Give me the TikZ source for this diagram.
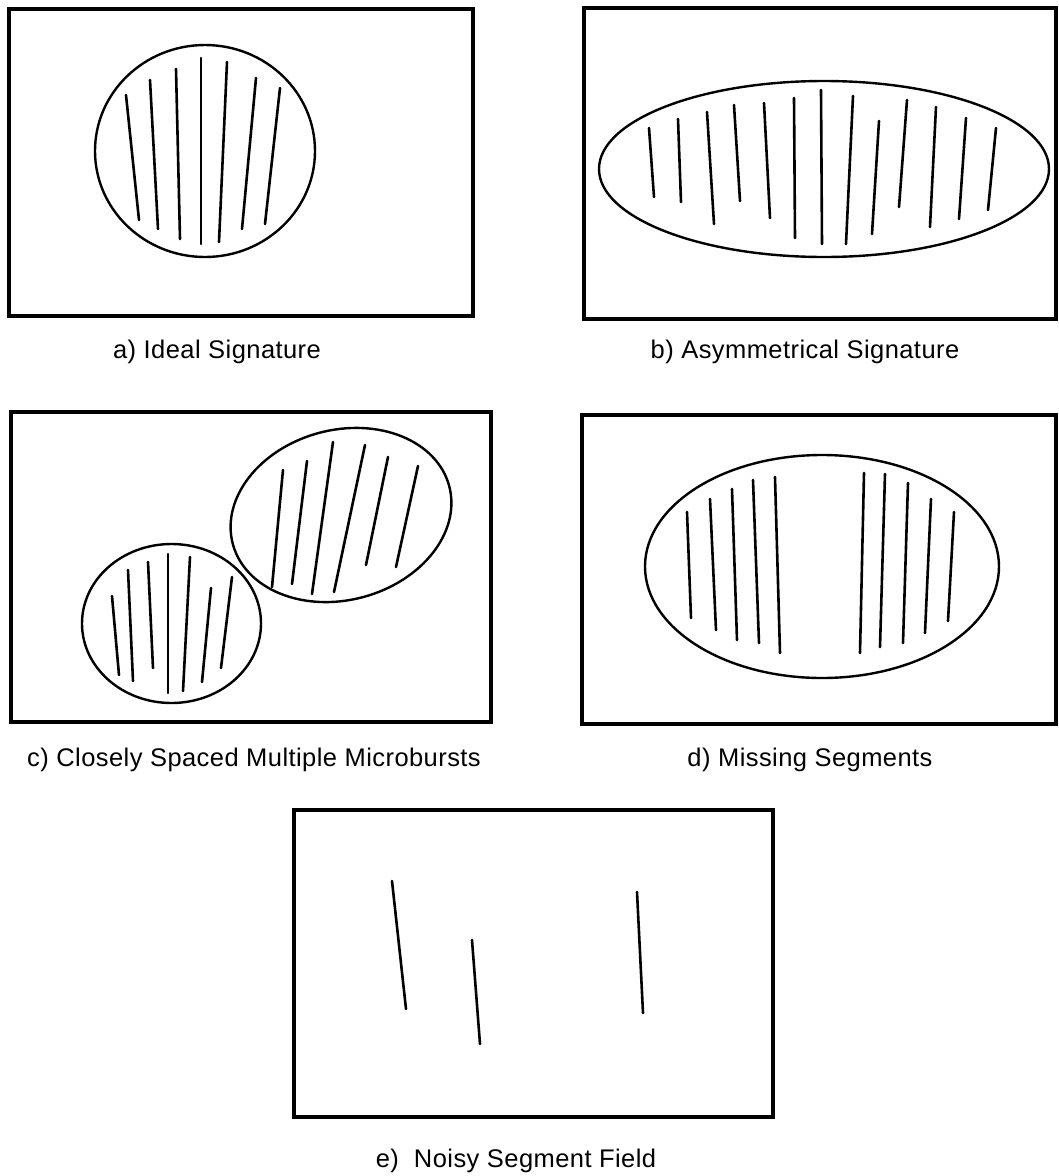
\documentclass[tikz,border=0pt]{standalone}
\usepackage{fontspec}
\setmainfont{Liberation Sans}[LetterSpace=1.7]
\begin{document}
\begin{tikzpicture}[x=1pt,y=-1pt,
  frame/.style={line width=3.2pt},
  blob/.style={line width=2.4pt},
  seg/.style={line width=2.6pt,line cap=round},
  lab/.style={anchor=base,font=\fontsize{25.5}{30}\selectfont,inner sep=0pt}]
\useasboundingbox (0,0) rectangle (1059,1176);
\fill[white] (0,0) rectangle (1059,1176);

% ---- a) Ideal Signature
\draw[frame] (9,9) rectangle (473,316);
\draw[blob] (205,151) ellipse [x radius=110, y radius=106];
\foreach \a/\b/\c/\d in {126/95/139/220, 150/80/158/229, 176/69/180/239,
  201/58/201/244, 227/62/219/242, 256/78/242/229, 280/88/265/224}
  \draw[seg] (\a,\b) -- (\c,\d);
\node[lab] (la) at (217,358) {a) Ideal Signature};

% ---- b) Asymmetrical Signature
\draw[frame] (584,8) rectangle (1056,319);
\draw[blob] (824,169) ellipse [x radius=225, y radius=88];
\foreach \a/\b/\c/\d in {649/128/654/197, 678/119/681/202, 707/112/714/224,
  734/105/740/201, 764/103/770/218, 794/98/795/238, 821/90/822/244,
  853/96/846/244, 879/121/872/234, 907/100/899/207, 936/107/930/227,
  966/118/959/219, 996/128/988/210}
  \draw[seg] (\a,\b) -- (\c,\d);
\node[lab] (lb) at (805,358) {b) Asymmetrical Signature};

% ---- c) Closely Spaced Multiple Microbursts
\draw[frame] (11,412) rectangle (491,722);
\draw[blob] (171.5,623.5) ellipse [x radius=89.5, y radius=79.5];
\draw[blob, rotate around={15:(341,515)}] (341,515) ellipse [x radius=112, y radius=85];
\foreach \a/\b/\c/\d in {112/596/119/675, 128/570/133/681, 148/562/153/668,
  168/554/168/693, 190/557/183/691, 211/588/202/682, 232/577/221/668}
  \draw[seg] (\a,\b) -- (\c,\d);
\foreach \a/\b/\c/\d in {283/470/272/587, 307/461/292/584, 333/442/312/594,
  365/445/334/592, 388/457/366/565, 418/466/396/567}
  \draw[seg] (\a,\b) -- (\c,\d);
\node[lab] (lc) at (254,766) {c) Closely Spaced Multiple Microbursts};

% ---- d) Missing Segments
\draw[frame] (582,415) rectangle (1056,724);
\draw[blob] (822,566.5) ellipse [x radius=177, y radius=111.5];
\foreach \a/\b/\c/\d in {687/512/691/618, 710/499/716/630, 732/489/737/640,
  753/480/759/643, 775/477/780/653, 864/473/860/653, 885/474/880/647,
  908/483/903/643, 931/499/925/633, 954/512/948/621}
  \draw[seg] (\a,\b) -- (\c,\d);
\node[lab] (ld) at (810,766) {d) Missing Segments};

% ---- e) Noisy Segment Field
\draw[frame] (294,810) rectangle (773,1117);
\foreach \a/\b/\c/\d in {392/881/406/1009, 472/940/480/1044, 637/892/643/1013}
  \draw[seg] (\a,\b) -- (\c,\d);
\node[lab] (le) at (516,1167) {e)\ \ Noisy Segment Field};
\end{tikzpicture}
\end{document}
